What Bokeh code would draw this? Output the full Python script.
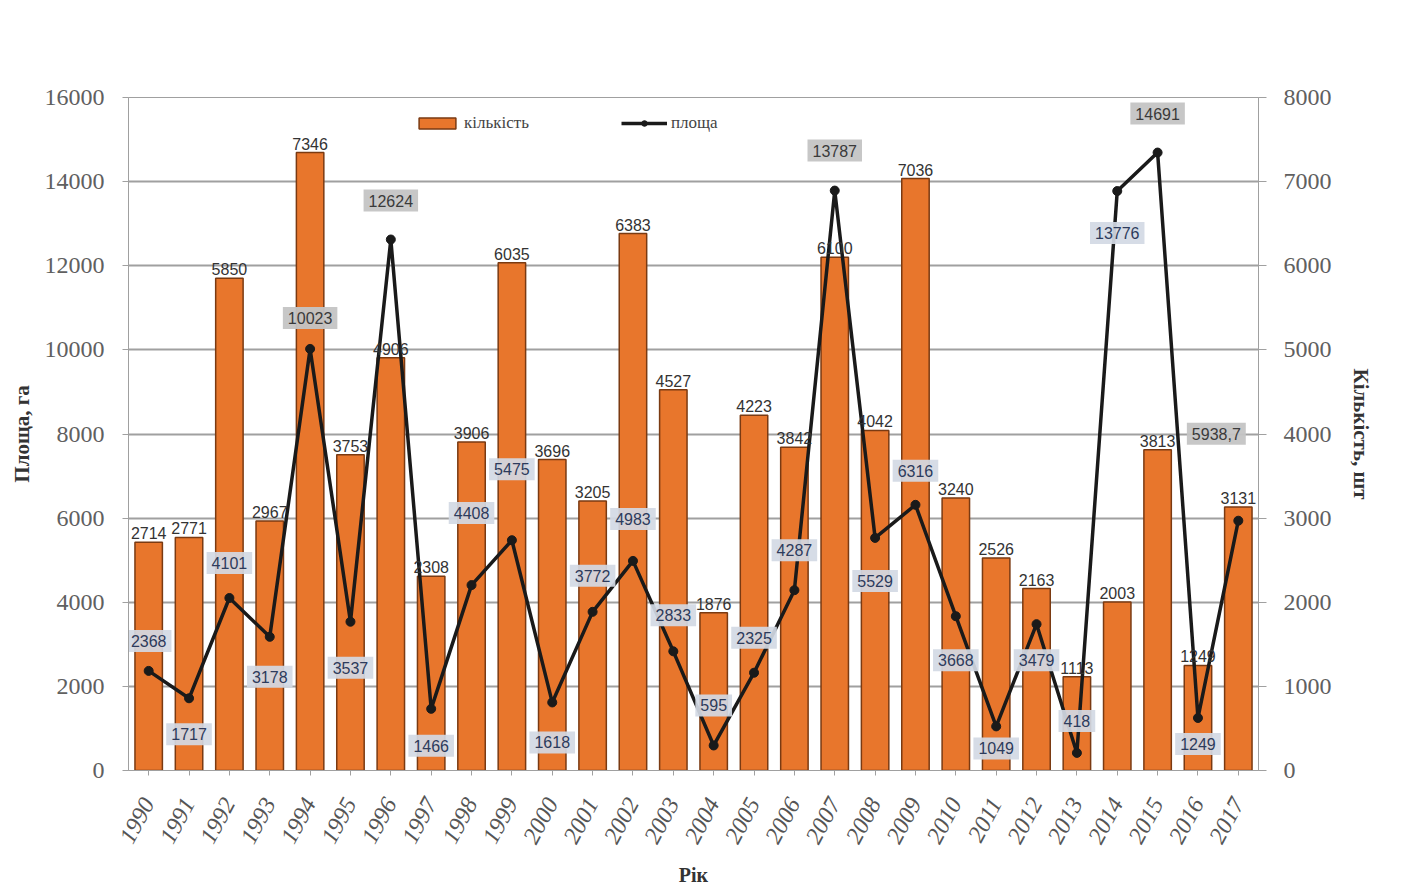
from bokeh.plotting import figure
from bokeh.models import (Range1d, LinearAxis, ColumnDataSource, LabelSet,
                          FixedTicker, Legend, LegendItem)
from bokeh.core.properties import value
from bokeh.embed import file_html
from bokeh.resources import INLINE

# ---- data ----
years = list(range(1990, 2018))
kilkist = [2714, 2771, 5850, 2967, 7346, 3753, 4906, 2308, 3906, 6035,
           3696, 3205, 6383, 4527, 1876, 4223, 3842, 6100, 4042, 7036,
           3240, 2526, 2163, 1113, 2003, 3813, 1249, 3131]
ploshcha = [2368, 1717, 4101, 3178, 10023, 3537, 12624, 1466, 4408, 5475,
            1618, 3772, 4983, 2833, 595, 2325, 4287, 13787, 5529, 6316,
            3668, 1049, 3479, 418, 13776, 14691, 1249, 5938.7]
ploshcha_text = ["2368", "1717", "4101", "3178", "10023", "3537", "12624", "1466",
                 "4408", "5475", "1618", "3772", "4983", "2833", "595", "2325",
                 "4287", "13787", "5529", "6316", "3668", "1049", "3479", "418",
                 "13776", "14691", "1249", "5938,7"]
left_ticks = [0, 2000, 4000, 6000, 8000, 10000, 12000, 14000, 16000]
right_ticks = [0, 1000, 2000, 3000, 4000, 5000, 6000, 7000, 8000]

# label placement (screen px, up positive) - styling only
lab_dy = [30, -36, 35, -40, 31, -46, 39, -37, 72, 71,
          -40, 36, 42, 36, 40, 35, 40, 40, -43, 34,
          -44, -22, -36, 32, -42, 39, -26, 87]
lab_dx = [0] * 27 + [-22]
top_boxes = {1994, 1996, 2007, 2015, 2017}

SERIF = "Liberation Serif"
SANS = "Liberation Sans"
GRID = "#a0a0a0"

p = figure(width=1410, height=890, output_backend="svg", toolbar_location=None,
           x_range=Range1d(1989.5, 2017.5), y_range=Range1d(0, 16000),
           min_border_left=128, min_border_right=152, min_border_top=97,
           min_border_bottom=120)
p.extra_y_ranges = {"count": Range1d(0, 8000)}

p.outline_line_color = GRID
p.outline_line_width = 1
p.background_fill_color = "white"
p.border_fill_color = "white"
p.xgrid.grid_line_color = None
p.ygrid.grid_line_color = GRID
p.ygrid.grid_line_width = 2
p.ygrid.ticker = FixedTicker(ticks=left_ticks)

# bars
src_b = ColumnDataSource(dict(x=years, y=kilkist, t=[str(v) for v in kilkist]))
bars = p.vbar(x="x", top="y", width=0.68, source=src_b, y_range_name="count",
              fill_color="#E8762C", line_color="#7a3a12", line_width=1.5)

# line
src_l = ColumnDataSource(dict(x=years, y=ploshcha, t=ploshcha_text))
ln = p.line(x="x", y="y", source=src_l, line_color="#1a1a1a", line_width=3.5)
pts = p.scatter(x="x", y="y", source=src_l, size=9, fill_color="#1a1a1a", line_color="#1a1a1a")

# bar labels
p.add_layout(LabelSet(x="x", y="y", text="t", source=src_b, y_range_name="count",
                      text_align="center", text_baseline="bottom", y_offset=3,
                      text_font=value(SANS), text_font_size="16px", text_color="#333333"))

# line labels (boxed)
idx_top = [i for i, y in enumerate(years) if y in top_boxes]
idx_low = [i for i, y in enumerate(years) if y not in top_boxes]
def sub(idx):
    return ColumnDataSource(dict(x=[years[i] for i in idx], y=[ploshcha[i] for i in idx],
                                 t=[ploshcha_text[i] for i in idx],
                                 dy=[-lab_dy[i] for i in idx], dx=[lab_dx[i] for i in idx]))
p.text(x="x", y="y", text="t", source=sub(idx_low), x_offset="dx", y_offset="dy",
       text_align="center", text_baseline="middle",
       text_font=value(SANS), text_font_size="16px", text_color="#2d3b5c",
       background_fill_color="#d3d9e4", background_fill_alpha=0.92, padding=5)
p.text(x="x", y="y", text="t", source=sub(idx_top), x_offset="dx", y_offset="dy",
       text_align="center", text_baseline="middle",
       text_font=value(SANS), text_font_size="16px", text_color="#3a3a3a",
       background_fill_color="#c4c4c4", background_fill_alpha=0.95, padding=5)

# axes
p.xaxis.ticker = FixedTicker(ticks=years)
p.xaxis.major_label_orientation = 1.08
p.xaxis.major_label_text_font = SERIF
p.xaxis.major_label_text_font_size = "24px"
p.xaxis.major_label_text_font_style = "italic"
p.xaxis.major_label_text_color = "#555555"
p.xaxis.major_label_standoff = 24
p.xaxis.axis_label = "Рік"
p.xaxis.axis_label_text_font = SERIF
p.xaxis.axis_label_text_font_size = "20px"
p.xaxis.axis_label_text_font_style = "bold"
p.xaxis.axis_label_text_color = "#333333"
p.xaxis.axis_label_standoff = 12
p.xaxis.axis_line_color = GRID
p.xaxis.major_tick_line_color = GRID
p.xaxis.major_tick_in = 0
p.xaxis.major_tick_out = 5
p.xaxis.minor_tick_line_color = None

p.yaxis.ticker = FixedTicker(ticks=left_ticks)
p.yaxis.major_label_text_font = SERIF
p.yaxis.major_label_text_font_size = "24px"
p.yaxis.major_label_text_color = "#606060"
p.yaxis.major_label_standoff = 18
p.yaxis.axis_label = "Площа, га"
p.yaxis.axis_label_text_font = SERIF
p.yaxis.axis_label_text_font_size = "21px"
p.yaxis.axis_label_text_font_style = "bold"
p.yaxis.axis_label_text_color = "#333333"
p.yaxis.axis_label_standoff = 8
p.yaxis.axis_line_color = GRID
p.yaxis.major_tick_line_color = GRID
p.yaxis.major_tick_in = 0
p.yaxis.major_tick_out = 6
p.yaxis.minor_tick_line_color = None

ra = LinearAxis(y_range_name="count", ticker=FixedTicker(ticks=right_ticks),
                axis_label="Кількість, шт")
ra.major_label_text_font = SERIF
ra.major_label_text_font_size = "24px"
ra.major_label_text_color = "#606060"
ra.major_label_standoff = 17
ra.axis_label_text_font = SERIF
ra.axis_label_text_font_size = "21px"
ra.axis_label_text_font_style = "bold"
ra.axis_label_text_color = "#333333"
ra.axis_label_standoff = 14
ra.axis_line_color = GRID
ra.major_tick_line_color = GRID
ra.major_tick_in = 0
ra.major_tick_out = 8
ra.minor_tick_line_color = None
p.add_layout(ra, "right")

legend = Legend(items=[LegendItem(label="кількість", renderers=[bars]),
                       LegendItem(label="площа", renderers=[ln, pts])],
                orientation="horizontal", location=(286, 637),
                glyph_width=46, glyph_height=14, spacing=92, label_standoff=4,
                label_text_font=SERIF, label_text_font_size="17px",
                label_text_color="#444444", border_line_color=None,
                background_fill_alpha=0.0, padding=4, margin=0)
p.add_layout(legend)

open("out.html", "w").write(file_html(p, INLINE))
